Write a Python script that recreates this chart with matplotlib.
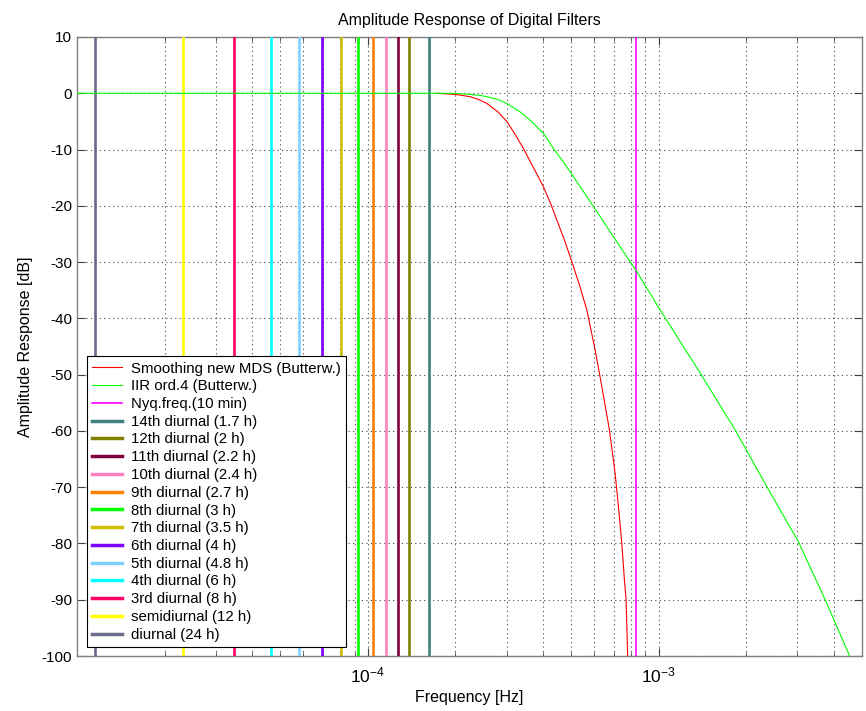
import matplotlib
matplotlib.use("Agg")
from matplotlib import pyplot as plt
from matplotlib.ticker import LogLocator, NullFormatter, MultipleLocator, FixedLocator

plt.rcParams["font.family"] = ["Liberation Sans", "DejaVu Sans"]
plt.rcParams["mathtext.default"] = "regular"
plt.rcParams["axes.unicode_minus"] = False

# IIR ord.4 (Butterworth) response
iir_freq = [1.0e-5, 1.5e-4, 1.948e-4, 2.2e-4, 2.4e-4, 2.564e-4, 2.8e-4, 3.003e-4,
            3.337e-4, 3.65e-4, 4.013e-4, 4.345e-4, 4.7e-4, 5.089e-4, 5.965e-4,
            6.986e-4, 8.41e-4, 1.003e-3, 1.388e-3, 1.831e-3, 2.353e-3, 3.023e-3,
            3.735e-3, 4.516e-3, 4.6e-3]
iir_db = [0.0, 0.0, 0.0, -0.15, -0.35, -0.6, -1.1, -1.8,
          -3.3, -5.0, -7.1, -9.8, -12.2, -14.8, -20.1,
          -25.5, -31.7, -38.2, -49.7, -59.8, -69.9, -79.7,
          -90.0, -99.8, -101.5]

# smoothing filter of new MDS (Butterworth)
mds_freq = [1.726e-4, 2.0e-4, 2.246e-4, 2.4e-4, 2.564e-4, 2.8e-4, 3.003e-4, 3.2e-4,
            3.425e-4, 3.7e-4, 4.013e-4, 4.25e-4, 4.463e-4, 4.75e-4, 5.025e-4,
            5.35e-4, 5.66e-4, 6.045e-4, 6.373e-4, 6.768e-4, 7.08e-4, 7.307e-4,
            7.465e-4, 7.621e-4, 7.724e-4, 7.805e-4, 7.83e-4]
mds_db = [0.0, -0.2, -0.6, -1.1, -1.8, -3.3, -5.0, -7.2,
          -9.8, -13.1, -16.6, -19.6, -22.5, -26.2, -29.9,
          -34.2, -38.5, -45.6, -52.1, -59.8, -67.5, -74.6,
          -79.9, -86.4, -90.0, -98.3, -102.0]

nyq_freq = 1 / 1200.0  # Nyquist for 10 min sampling

# tidal harmonics (cycles per day), labels and colours
cycles_per_day = [14, 12, 11, 10, 9, 8, 7, 6, 5, 4, 3, 2, 1]
harm_labels = ["14th diurnal (1.7 h)", "12th diurnal (2 h)", "11th diurnal (2.2 h)",
               "10th diurnal (2.4 h)", "9th diurnal (2.7 h)", "8th diurnal (3 h)",
               "7th diurnal (3.5 h)", "6th diurnal (4 h)", "5th diurnal (4.8 h)",
               "4th diurnal (6 h)", "3rd diurnal (8 h)", "semidiurnal (12 h)",
               "diurnal (24 h)"]
harm_colors = ["#408080", "#808000", "#800040", "#ff80c0", "#ff8000", "#00ff00",
               "#d0c000", "#8000ff", "#80d0ff", "#00ffff", "#ff0066", "#ffff00",
               "#6b6b8a"]

fig = plt.figure(figsize=(8.66, 7.11), dpi=100)
ax = fig.add_axes([77 / 866, 55 / 711, 785 / 866, 619 / 711])

handles = []
h, = ax.plot(mds_freq, mds_db, color="#ff0000", lw=0.8, zorder=4,
             label="Smoothing new MDS (Butterw.)")
handles.append(h)
h, = ax.plot(iir_freq, iir_db, color="#00ff00", lw=0.8, zorder=4,
             label="IIR ord.4 (Butterw.)")
handles.append(h)
h = ax.axvline(nyq_freq, color="#ff00ff", lw=1.2, zorder=3, label="Nyq.freq.(10 min)")
handles.append(h)
for cpd, lab, col in zip(cycles_per_day, harm_labels, harm_colors):
    h = ax.axvline(cpd / 86400.0, color=col, lw=1.9, zorder=3, label=lab)
    handles.append(h)

ax.set_xscale("log")
ax.set_xlim(1e-5, 5e-3)
ax.set_ylim(-100, 10)
ax.yaxis.set_major_locator(MultipleLocator(10))
ax.xaxis.set_major_locator(FixedLocator([1e-4, 1e-3]))
ax.xaxis.set_minor_locator(LogLocator(base=10, subs=range(2, 10)))
ax.xaxis.set_minor_formatter(NullFormatter())

ax.grid(True, which="major", axis="both", color="#444444", linestyle=(0, (1, 3)), lw=0.8)
ax.grid(True, which="minor", axis="x", color="#444444", linestyle=(0, (1, 3)), lw=0.8)
ax.set_axisbelow(True)

for s in ax.spines.values():
    s.set_color("#808080")
    s.set_linewidth(1.0)
ax.tick_params(which="both", direction="in", top=True, right=True, color="#404040")
ax.tick_params(which="major", length=6)
ax.tick_params(which="minor", length=3)
ax.tick_params(axis="y", labelsize=11)
ax.tick_params(axis="x", labelsize=12.5, pad=7)

ax.set_title("Amplitude Response of Digital Filters", fontsize=11.5, pad=9)
ax.set_xlabel("Frequency [Hz]", fontsize=11.5, labelpad=3)
ax.set_ylabel("Amplitude Response [dB]", fontsize=11.5, labelpad=6)

leg = ax.legend(handles=handles, loc="lower left", bbox_to_anchor=(10 / 785, 9 / 619),
                borderaxespad=0, fontsize=10.8, frameon=True, fancybox=False,
                framealpha=1, edgecolor="black", handlelength=2.0,
                handletextpad=0.6, labelspacing=0.25, borderpad=0.35)
leg.get_frame().set_linewidth(0.8)
for lh in leg.get_lines()[3:]:
    lh.set_linewidth(2.5)

fig.savefig("out.png", dpi=100)
